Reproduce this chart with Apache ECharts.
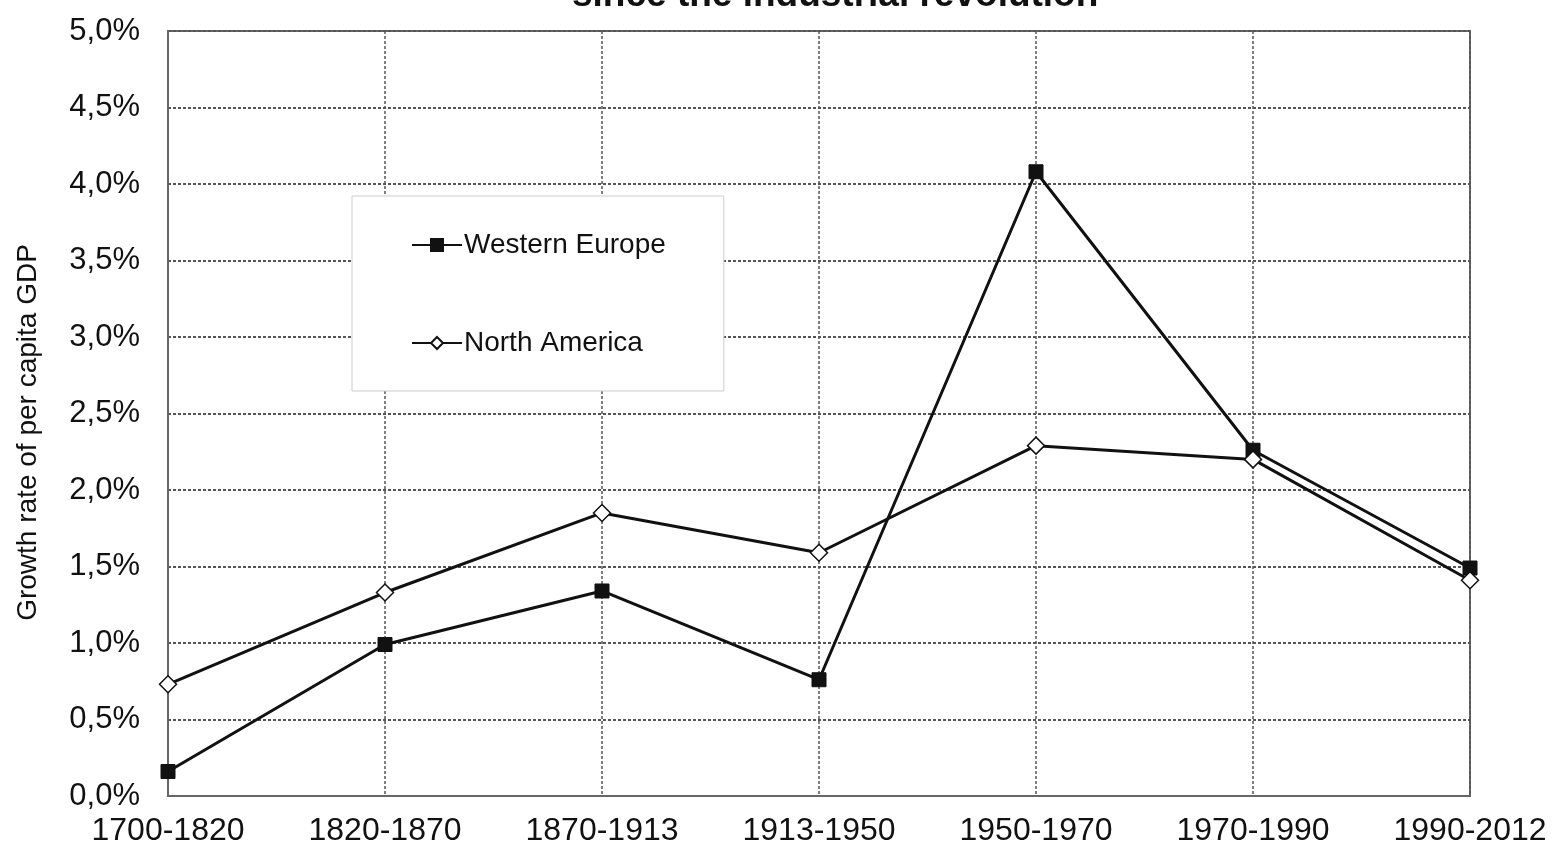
<!DOCTYPE html>
<html>
<head>
<meta charset="utf-8">
<script src="https://cdn.jsdelivr.net/npm/echarts@6/dist/echarts.min.js"></script>
<style>
  html, body { margin: 0; padding: 0; background: #fff; }
  #chart { width: 1554px; height: 847px; }
</style>
</head>
<body>
<div id="chart"></div>
<script>
// Periods and per capita GDP growth rates (% per year)
const periods = ['1700-1820', '1820-1870', '1870-1913', '1913-1950', '1950-1970', '1970-1990', '1990-2012'];
const westernEurope = [0.16, 0.99, 1.34, 0.76, 4.08, 2.26, 1.49];
const northAmerica = [0.73, 1.33, 1.85, 1.59, 2.29, 2.20, 1.41];

const fontFamily = '"Liberation Sans", Arial, sans-serif';
const chart = echarts.init(document.getElementById('chart'));

chart.setOption({
  backgroundColor: '#fff',
  animation: false,
  title: {
    text: 'since the industrial revolution',
    left: 567,
    top: -28,
    textStyle: { fontFamily, fontSize: 37, fontWeight: 'bold', color: '#111' }
  },
  grid: {
    left: 168, right: 84, top: 31, bottom: 51,
    show: true, borderColor: '#666', borderWidth: 2, backgroundColor: '#fff'
  },
  legend: {
    orient: 'vertical',
    left: 352, top: 196,
    padding: [35, 58, 34, 59],
    itemGap: 70,
    itemWidth: 50, itemHeight: 15,
    backgroundColor: '#fff',
    borderColor: '#ccc', borderWidth: 1,
    textStyle: { fontFamily, fontSize: 28, color: '#111', padding: [0, 0, 0, -3] },
    data: ['Western Europe', 'North America']
  },
  xAxis: {
    type: 'category',
    data: periods,
    boundaryGap: false,
    axisLine: { lineStyle: { color: '#666', width: 2 } },
    axisTick: { show: false },
    axisLabel: { fontFamily, fontSize: 32, color: '#111', margin: 19, interval: 0 },
    splitLine: { show: true, lineStyle: { color: '#555', width: 1.5, type: [3, 2] } }
  },
  yAxis: {
    type: 'value',
    min: 0, max: 5, interval: 0.5,
    name: 'Growth rate of per capita GDP',
    nameLocation: 'middle',
    nameGap: 126,
    nameTextStyle: { fontFamily, fontSize: 28, color: '#111', padding: [0, 38, 0, 0] },
    axisLine: { show: true, lineStyle: { color: '#666', width: 2 } },
    axisTick: { show: false },
    axisLabel: {
      fontFamily, fontSize: 31, color: '#111', margin: 28,
      formatter: v => v.toFixed(1).replace('.', ',') + '%'
    },
    splitLine: { show: true, lineStyle: { color: '#555', width: 2, type: [3, 2] } }
  },
  series: [
    {
      name: 'Western Europe',
      type: 'line',
      data: westernEurope,
      symbol: 'rect',
      symbolSize: 14,
      lineStyle: { color: '#111', width: 3 },
      itemStyle: { color: '#111', borderColor: '#111', borderWidth: 1 },
      z: 3
    },
    {
      name: 'North America',
      type: 'line',
      data: northAmerica,
      symbol: 'diamond',
      symbolSize: 17,
      lineStyle: { color: '#111', width: 3 },
      itemStyle: { color: '#fff', borderColor: '#111', borderWidth: 1.5 },
      z: 4
    }
  ]
});
</script>
</body>
</html>
